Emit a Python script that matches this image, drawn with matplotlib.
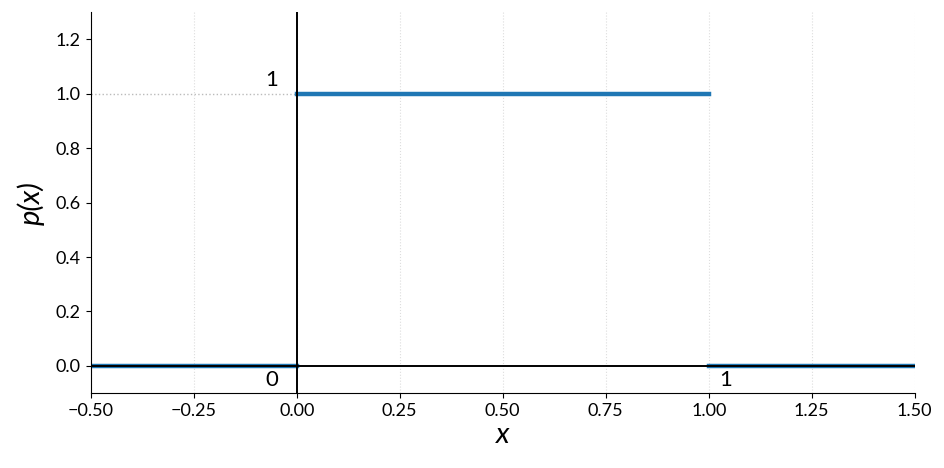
import matplotlib.pyplot as plt

plt.rcParams['font.family'] = ['Lato', 'DejaVu Sans']

# uniform(0, 1) density, drawn piecewise
seg_x = [[-0.5, 0.0], [0.0, 1.0], [1.0, 1.5]]
seg_p = [[0.0, 0.0], [1.0, 1.0], [0.0, 0.0]]

xticks = [-0.5, -0.25, 0.0, 0.25, 0.5, 0.75, 1.0, 1.25, 1.5]
yticks = [0.0, 0.2, 0.4, 0.6, 0.8, 1.0, 1.2]

fig, ax = plt.subplots(figsize=(9.45, 4.68), dpi=100)
fig.subplots_adjust(left=0.096, right=0.968, top=0.974, bottom=0.160)

for sx, sp in zip(seg_x, seg_p):
    ax.plot(sx, sp, color='#1f77b4', lw=3.2, solid_capstyle='projecting', zorder=2)

ax.axhline(0, color='black', lw=1.4, zorder=3)
ax.axvline(0, color='black', lw=1.4, zorder=3)
ax.hlines(1.0, -0.5, 0.0, color='#bbbbbb', lw=1, linestyles=':', zorder=1)

ax.text(-0.045, 1.015, '1', fontsize=16, ha='right', va='bottom')
ax.text(-0.045, -0.015, '0', fontsize=16, ha='right', va='top')
ax.text(1.025, -0.015, '1', fontsize=16, ha='left', va='top')

ax.set_xlim(-0.5, 1.5)
ax.set_ylim(-0.1, 1.3)
ax.set_xticks(xticks)
ax.set_yticks(yticks)
ax.tick_params(labelsize=13)
ax.grid(axis='x', color='#dddddd', ls=':', lw=0.8)
ax.spines['top'].set_visible(False)
ax.spines['right'].set_visible(False)

ax.set_xlabel('x', fontsize=21, fontstyle='italic', labelpad=2)
ax.set_ylabel('p(x)', fontsize=21, fontstyle='italic', labelpad=8)

plt.savefig('out.png')
